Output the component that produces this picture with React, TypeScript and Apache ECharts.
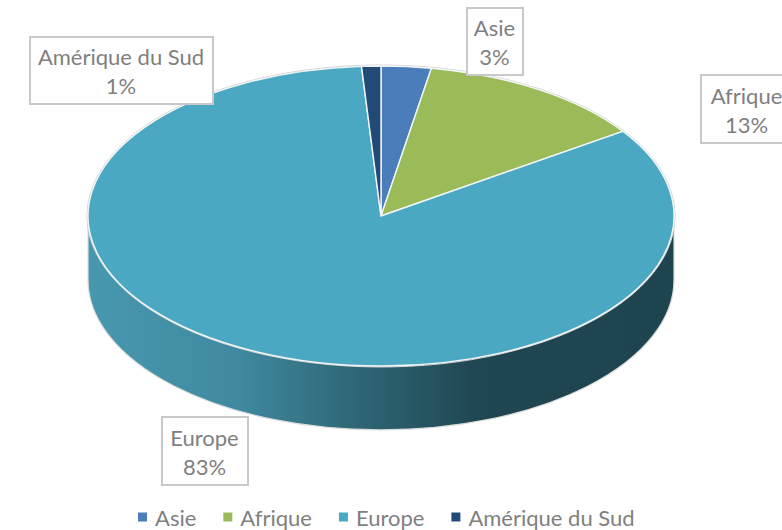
import React, { useEffect, useRef } from "react";
import * as echarts from "echarts";

const categories = ["Asie", "Afrique", "Europe", "Amérique du Sud"];
const shares = [2.75, 12.7, 83.49, 1.06];
const colors = ["#4a7dba", "#9bbb59", "#4aa8c3", "#234a76"];

const CX = 381, CY = 216, RX = 293, RY = 150, DEPTH = 64;
const labelBoxes = [
  { x: 467, y: 8, w: 56, h: 67 },
  { x: 701, y: 75, w: 92, h: 68 },
  { x: 162, y: 417, w: 86, h: 68 },
  { x: 30, y: 37, w: 183, h: 67 },
];
const total = shares.reduce((a, b) => a + b, 0);

function pt(a: number, dy = 0, grow = 0) {
  return [CX + (RX + grow) * Math.sin(a), CY - (RY + grow) * Math.cos(a) + dy];
}
function range(i: number) {
  const before = shares.slice(0, i).reduce((a, b) => a + b, 0);
  return [(before / total) * 2 * Math.PI, ((before + shares[i]) / total) * 2 * Math.PI];
}
function arc(a: number, b: number, dy = 0, grow = 0) {
  const e = pt(b, dy, grow);
  return `A ${RX + grow} ${RY + grow} 0 ${b - a > Math.PI ? 1 : 0} 1 ${e[0]} ${e[1]}`;
}

const sideGradient = new echarts.graphic.LinearGradient(
  CX - RX, 0, CX + RX, 0,
  [
    { offset: 0, color: "#4798af" },
    { offset: 0.25, color: "#408aa0" },
    { offset: 0.46, color: "#2e6675" },
    { offset: 0.67, color: "#1f4651" },
    { offset: 1, color: "#1e4450" },
  ],
  true
);

function renderSlice(i: number) {
  return () => {
    const [a, b] = range(i);
    const children: any[] = [];
    const s = Math.max(a, Math.PI / 2);
    const t = Math.min(b, (3 * Math.PI) / 2);
    if (t > s) {
      const p0 = pt(s);
      const p1 = pt(t, DEPTH);
      const d = `M ${p0[0]} ${p0[1]} ${arc(s, t)} L ${p1[0]} ${p1[1]} A ${RX} ${RY} 0 ${t - s > Math.PI ? 1 : 0} 0 ${pt(s, DEPTH)[0]} ${pt(s, DEPTH)[1]} Z`;
      children.push({
        type: "path",
        shape: { pathData: d },
        style: { fill: sideGradient, stroke: "#dcdcdc", lineWidth: 1.2 },
      });
    }
    const start = pt(a);
    children.push({
      type: "path",
      shape: { pathData: `M ${pt(a, 0, 1)[0]} ${pt(a, 0, 1)[1]} ${arc(a, b, 0, 1)}` },
      style: { fill: "none", stroke: "#d2d2d2", lineWidth: 1 },
    });
    children.push({
      type: "path",
      shape: { pathData: `M ${CX} ${CY} L ${start[0]} ${start[1]} ${arc(a, b)} Z` },
      style: { fill: colors[i], stroke: "#f2f5f6", lineWidth: 1.4 },
    });
    return { type: "group", children };
  };
}

function renderLabel(params: any) {
  const i = params.dataIndex;
  const box = labelBoxes[i];
  const pct = Math.round((shares[i] / total) * 100);
  return {
    type: "group",
    children: [
      {
        type: "rect",
        shape: { x: box.x, y: box.y, width: box.w, height: box.h },
        style: { fill: "#ffffff", stroke: "#c9c9c9", lineWidth: 2 },
      },
      {
        type: "text",
        x: box.x + box.w / 2 - 0.5,
        y: box.y + box.h / 2 + 0.5,
        style: {
          text: `${categories[i]}\n${pct}%`,
          fill: "#7f7f7f",
          font: "22px Lato",
          lineHeight: 29,
          align: "center",
          verticalAlign: "middle",
        },
      },
    ],
  };
}

export default function App() {
  const ref = useRef<HTMLDivElement>(null);
  useEffect(() => {
    const chart = echarts.init(ref.current!, null, { renderer: "svg" });
    chart.setOption({
      animation: false,
      backgroundColor: "#ffffff",
      legend: {
        data: categories,
        left: 138,
        top: 506,
        padding: 0,
        icon: "rect",
        itemWidth: 9,
        itemHeight: 9,
        itemGap: 27,
        selectedMode: false,
        textStyle: { color: "#7f7f7f", fontFamily: "Lato", fontSize: 22, padding: [0, 0, 0, 3] },
      },
      series: [
        ...categories.map((name, i) => ({
          type: "custom",
          name,
          coordinateSystem: "none",
          silent: true,
          z: 2,
          itemStyle: { color: colors[i] },
          data: [[shares[i]]],
          renderItem: renderSlice(i),
        })),
        {
          type: "custom",
          name: "Étiquettes",
          coordinateSystem: "none",
          silent: true,
          z: 5,
          data: shares.map((v) => [v]),
          renderItem: (params: any) => renderLabel(params),
        },
      ],
    });
    return () => chart.dispose();
  }, []);
  return <div ref={ref} style={{ position: "fixed", left: 0, top: 0, width: 782, height: 530 }} />;
}
